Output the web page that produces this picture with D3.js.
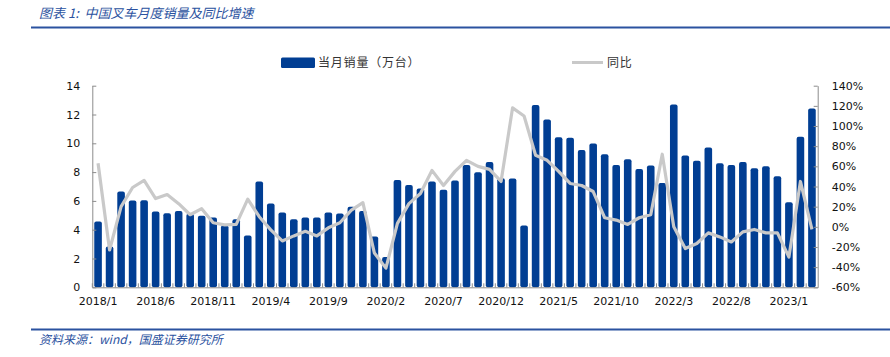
<!DOCTYPE html>
<html><head><meta charset="utf-8">
<script src="https://cdn.jsdelivr.net/npm/d3@7"></script>
<style>
html,body{margin:0;padding:0;background:#fff;}
svg{display:block;}
</style></head>
<body>
<svg id="chart" width="890" height="357"></svg>
<script>
const months = [
"2018/1","2018/2","2018/3","2018/4","2018/5","2018/6","2018/7","2018/8","2018/9","2018/10","2018/11","2018/12",
"2019/1","2019/2","2019/3","2019/4","2019/5","2019/6","2019/7","2019/8","2019/9","2019/10","2019/11","2019/12",
"2020/1","2020/2","2020/3","2020/4","2020/5","2020/6","2020/7","2020/8","2020/9","2020/10","2020/11","2020/12",
"2021/1","2021/2","2021/3","2021/4","2021/5","2021/6","2021/7","2021/8","2021/9","2021/10","2021/11","2021/12",
"2022/1","2022/2","2022/3","2022/4","2022/5","2022/6","2022/7","2022/8","2022/9","2022/10","2022/11","2022/12",
"2023/1","2023/2","2023/3"];
const sales = [
4.57,2.84,6.65,6.03,6.05,5.27,5.15,5.29,5.10,4.97,4.85,4.30,
4.73,3.60,7.34,5.82,5.20,4.73,4.85,4.85,5.20,5.13,5.59,5.29,
3.53,2.10,7.46,7.11,6.86,7.34,6.77,7.41,8.50,7.99,8.71,7.58,
7.55,4.30,12.66,11.66,10.42,10.39,9.54,9.98,9.24,8.50,8.89,8.22,
8.45,7.25,12.70,9.15,8.78,9.70,8.61,8.50,8.71,8.27,8.41,7.71,
5.91,10.46,12.42];
const yoy = [
63,-23,20,39,46,28,32,23,12,18,4,2,
2.4,27.5,10,-3,-14,-9,-4.5,-9,-1,4,16.6,24,
-26,-41,3.4,23,33,56,41,55,66,60,57,45,
118,110,71,66,55,43,41,35,9,6.7,2.4,9,
12,72,0,-21.5,-16.5,-6,-10,-15,-5,-2.6,-6,-6,
-30,45,-2.6];
const xTickLabels = ["2018/1","2018/6","2018/11","2019/4","2019/9","2020/2","2020/7","2020/12","2021/5","2021/10","2022/3","2022/8","2023/1"];
const leftTicks = [0,2,4,6,8,10,12,14];
const rightTicks = [-60,-40,-20,0,20,40,60,80,100,120,140];
const title = "图表 1:  中国叉车月度销量及同比增速";
const source = "资料来源：wind，国盛证券研究所";
const seriesNames = ["当月销量（万台）","同比"];

const barColor = "#013e93", lineColor = "#c9c9c9", axisColor = "#8c8c8c", blue = "#2b52a0";
const L = 92.3, R = 817.7, T = 85.7, B = 287.3;
const svg = d3.select("#chart");
const tickFont = "'DejaVu Sans', Verdana, sans-serif";
const cjkFont = "'Noto Sans CJK SC', sans-serif";

// title and rules
svg.append("text").attr("x", 39).attr("y", 18).attr("fill", blue)
  .attr("font-family", cjkFont).attr("font-size", 13).attr("font-style", "italic")
  .attr("xml:space","preserve").text(title);
svg.append("line").attr("x1", 31).attr("x2", 890).attr("y1", 27.5).attr("y2", 27.5)
  .attr("stroke", blue).attr("stroke-width", 2);
svg.append("line").attr("x1", 31).attr("x2", 890).attr("y1", 329.5).attr("y2", 329.5)
  .attr("stroke", blue).attr("stroke-width", 2);
svg.append("text").attr("x", 39).attr("y", 344).attr("fill", blue)
  .attr("font-family", cjkFont).attr("font-size", 12).attr("font-style", "italic").text(source);

const x = d3.scaleBand().domain(months).range([L, R]).paddingInner(0.34).paddingOuter(0.17);
const yL = d3.scaleLinear().domain([0, 14]).range([B, T]);
const yR = d3.scaleLinear().domain([-60, 140]).range([B, T]);

// bars
svg.append("g").selectAll("rect").data(months).join("rect")
  .attr("x", d => x(d)).attr("width", x.bandwidth())
  .attr("y", (d, i) => yL(sales[i])).attr("height", (d, i) => yL(0) - yL(sales[i]))
  .attr("rx", 2).attr("fill", barColor);

// line
const line = d3.line().x((d, i) => x(months[i]) + x.bandwidth() / 2).y(d => yR(d));
svg.append("path").datum(yoy).attr("d", line).attr("fill", "none")
  .attr("stroke", lineColor).attr("stroke-width", 3.2).attr("stroke-linejoin", "round");

// axes
const gl = svg.append("g").attr("transform", `translate(${L},0)`)
  .call(d3.axisLeft(yL).tickValues(leftTicks).tickSizeInner(-4).tickSizeOuter(0).tickPadding(12));
const gr = svg.append("g").attr("transform", `translate(${R},0)`)
  .call(d3.axisRight(yR).tickValues(rightTicks).tickFormat(d => d + "%").tickSizeInner(-4).tickSizeOuter(0).tickPadding(14));
const gb = svg.append("g").attr("transform", `translate(0,${B})`)
  .call(d3.axisBottom(x).tickValues(xTickLabels).tickSize(0).tickPadding(10));
[gl, gr, gb].forEach(g => {
  g.select(".domain").attr("stroke", axisColor);
  g.selectAll(".tick line").attr("stroke", axisColor);
  g.selectAll(".tick text").attr("fill", "#111").attr("font-family", tickFont).attr("font-size", 11);
});
// category boundary ticks on the bottom axis
const step = x.step();
svg.append("g").selectAll("line").data(months).join("line")
  .attr("x1", d => x(d) - x.paddingOuter() * step).attr("x2", d => x(d) - x.paddingOuter() * step)
  .attr("y1", B).attr("y2", B - 4).attr("stroke", axisColor);

// legend
const lg = svg.append("g");
lg.append("rect").attr("x", 281).attr("y", 57.5).attr("width", 34).attr("height", 10.5).attr("rx", 1.5).attr("fill", barColor);
lg.append("text").attr("x", 318).attr("y", 67).attr("font-family", cjkFont).attr("font-size", 12)
  .attr("letter-spacing", 0.8).attr("fill", "#333").text(seriesNames[0]);
lg.append("line").attr("x1", 572).attr("x2", 603).attr("y1", 62.5).attr("y2", 62.5)
  .attr("stroke", lineColor).attr("stroke-width", 3);
lg.append("text").attr("x", 607).attr("y", 67).attr("font-family", cjkFont).attr("font-size", 12)
  .attr("letter-spacing", 0.8).attr("fill", "#333").text(seriesNames[1]);
</script>
</body></html>
